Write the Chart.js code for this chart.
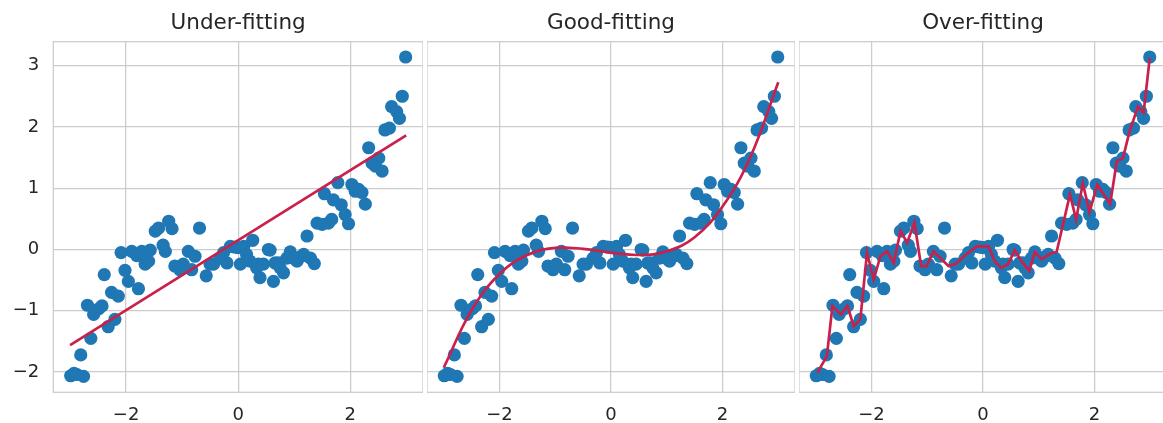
<!DOCTYPE html>
<html lang="en">
<head>
  <meta charset="UTF-8" />
  <title>Under-fitting / Good-fitting / Over-fitting</title>
  <script src="https://cdn.jsdelivr.net/npm/chart.js"></script>
  <style>
    body {
      margin: 0;
      background: #fff;
      width: 1163px;
      height: 423px;
      overflow: hidden;
      position: relative;
    }
    .panel { position: absolute; top: 0; }
  </style>
</head>
<body>
  <canvas id="under" class="panel" style="left:0px" width="423" height="423"></canvas>
  <canvas id="good" class="panel" style="left:427px" width="368" height="423"></canvas>
  <canvas id="over" class="panel" style="left:799px" width="368" height="423"></canvas>

  <script>
    // noisy samples (same in all three panels)
    const sampleX = [
      -2.99, -2.93, -2.88, -2.81, -2.76, -2.69, -2.63, -2.58, -2.49, -2.43,
      -2.39, -2.32, -2.26, -2.20, -2.14, -2.09, -2.02, -1.96, -1.90, -1.81,
      -1.78, -1.72, -1.66, -1.60, -1.57, -1.48, -1.42, -1.34, -1.30, -1.24,
      -1.18, -1.13, -1.04, -0.98, -0.89, -0.83, -0.77, -0.69, -0.57, -0.50,
      -0.44, -0.32, -0.26, -0.20, -0.14, -0.06, 0.00, 0.04, 0.10, 0.15,
      0.21, 0.26, 0.33, 0.36, 0.39, 0.45, 0.54, 0.57, 0.63, 0.66,
      0.72, 0.75, 0.81, 0.87, 0.93, 0.99, 1.05, 1.11, 1.17, 1.23,
      1.29, 1.36, 1.41, 1.50, 1.54, 1.61, 1.67, 1.70, 1.78, 1.84,
      1.91, 1.97, 2.03, 2.09, 2.15, 2.21, 2.27, 2.33, 2.39, 2.45,
      2.51, 2.57, 2.62, 2.70, 2.74, 2.83, 2.88, 2.93, 2.99
    ];
    const sampleY = [
      -2.06, -2.02, -2.04, -1.72, -2.07, -0.91, -1.45, -1.06, -0.97, -0.92,
      -0.41, -1.26, -0.70, -1.14, -0.76, -0.05, -0.34, -0.52, -0.03, -0.10,
      -0.64, -0.03, -0.24, -0.19, -0.01, 0.30, 0.35, 0.07, -0.03, 0.46,
      0.34, -0.27, -0.33, -0.24, -0.03, -0.33, -0.11, 0.35, -0.43, -0.24,
      -0.24, -0.14, -0.05, -0.22, 0.05, 0.04, 0.03, -0.24, 0.05, -0.08,
      -0.19, 0.15, -0.30, -0.24, -0.46, -0.24, 0.00, -0.01, -0.52, -0.22,
      -0.22, -0.30, -0.38, -0.14, -0.04, -0.14, -0.19, -0.12, -0.08, 0.22,
      -0.14, -0.23, 0.43, 0.41, 0.91, 0.43, 0.49, 0.81, 1.09, 0.73,
      0.57, 0.42, 1.06, 0.95, 0.98, 0.93, 0.74, 1.66, 1.41, 1.36,
      1.49, 1.28, 1.95, 1.98, 2.33, 2.25, 2.14, 2.50, 3.14
    ];

    // fitted curves
    const underX = [-3, 3];
    const underY = [-1.56, 1.86];

    const goodX = [-3, -2.5, -2, -1.5, -1, -0.5, 0, 0.5, 1, 1.5, 2, 2.5, 3];
    const goodY = [-1.93, -0.99, -0.40, -0.09, 0.025, 0.01, -0.05, -0.09, -0.03, 0.2, 0.70, 1.51, 2.73];

    const overX = [
      -2.97, -2.80, -2.70, -2.55, -2.43, -2.32, -2.20, -2.08, -1.96, -1.84,
      -1.72, -1.60, -1.48, -1.36, -1.23, -1.11, -1.01, -0.89, -0.62, -0.50,
      -0.26, -0.11, 0.10, 0.21, 0.33, 0.45, 0.57, 0.69, 0.83, 0.93,
      1.05, 1.20, 1.32, 1.56, 1.67, 1.79, 1.91, 2.05, 2.28, 2.40,
      2.51, 2.63, 2.78, 2.88, 2.99
    ];
    const overY = [
      -2.01, -1.74, -0.92, -1.06, -0.92, -1.25, -1.14, -0.05, -0.49, -0.11,
      -0.03, -0.22, 0.30, 0.11, 0.44, -0.27, -0.27, -0.03, -0.27, -0.24,
      -0.05, 0.05, 0.05, -0.19, -0.30, -0.24, -0.01, -0.19, -0.35, -0.04,
      -0.16, -0.07, -0.04, 0.90, 0.49, 1.08, 0.61, 1.06, 0.74, 1.44,
      1.49, 1.93, 2.33, 2.23, 3.12
    ];

    const xTicks = [-2, 0, 2];
    const yTicks = [-2, -1, 0, 1, 2, 3];

    const dotColor = '#1f77b4';
    const lineColor = '#c9214b';
    const gridColor = '#cccccc';
    const textColor = '#262626';
    const family = "'DejaVu Sans', sans-serif";

    const toPoints = (xs, ys) => xs.map((x, i) => ({ x: x, y: ys[i] }));
    const fmt = v => (v < 0 ? '\u2212' + Math.abs(v) : String(v));

    // axes box on all four sides, like the matplotlib spines
    const frame = {
      id: 'frame',
      afterDatasetsDraw(chart) {
        const { ctx, chartArea: a } = chart;
        ctx.save();
        ctx.strokeStyle = gridColor;
        ctx.lineWidth = 1.25;
        ctx.strokeRect(a.left, a.top, a.right - a.left, a.bottom - a.top);
        ctx.restore();
      }
    };

    function makePanel(id, title, fitX, fitY, tension, showY) {
      return new Chart(document.getElementById(id), {
        type: 'scatter',
        data: {
          datasets: [
            {
              data: toPoints(fitX, fitY),
              showLine: true,
              borderColor: lineColor,
              borderWidth: 2.7,
              pointRadius: 0,
              tension: tension,
              order: 0
            },
            {
              data: toPoints(sampleX, sampleY),
              pointRadius: 6.6,
              backgroundColor: dotColor,
              borderWidth: 0,
              order: 1
            }
          ]
        },
        options: {
          responsive: false,
          animation: false,
          devicePixelRatio: 1,
          events: [],
          layout: { padding: 0, autoPadding: false },
          plugins: {
            legend: { display: false },
            tooltip: { enabled: false },
            title: {
              display: true,
              text: title,
              fullSize: false,
              color: textColor,
              font: { family: family, size: 21.5, weight: 'normal' },
              padding: { top: 10.5, bottom: 5.4 }
            }
          },
          scales: {
            x: {
              min: -3.3,
              max: 3.3,
              afterBuildTicks: s => { s.ticks = xTicks.map(v => ({ value: v })); },
              afterFit: s => { s.height = 30.7; },
              grid: { color: gridColor, lineWidth: 1.25, drawTicks: false },
              border: { display: false },
              ticks: {
                padding: 12,
                color: textColor,
                font: { family: family, size: 18 },
                callback: fmt
              }
            },
            y: {
              min: -2.33,
              max: 3.39,
              afterBuildTicks: s => { s.ticks = yTicks.map(v => ({ value: v })); },
              afterFit: s => { s.width = showY ? 53.3 : 0; },
              grid: { color: gridColor, lineWidth: 1.25, drawTicks: false },
              border: { display: false },
              ticks: {
                display: showY,
                padding: 14,
                color: textColor,
                font: { family: family, size: 18 },
                callback: fmt
              }
            }
          }
        },
        plugins: [frame]
      });
    }

    makePanel('under', 'Under-fitting', underX, underY, 0, true);
    makePanel('good', 'Good-fitting', goodX, goodY, 0.4, false);
    makePanel('over', 'Over-fitting', overX, overY, 0, false);
  </script>
</body>
</html>
